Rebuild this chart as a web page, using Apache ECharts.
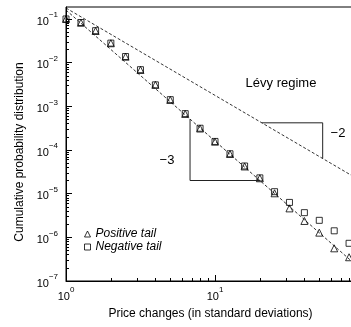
<!DOCTYPE html>
<html>
<head>
<meta charset="utf-8">
<script src="https://cdn.jsdelivr.net/npm/echarts@6/dist/echarts.min.js"></script>
<style>
html,body{margin:0;padding:0;background:#fff}
#chart{width:351px;height:327px}
</style>
</head>
<body>
<div id="chart"></div>
<script>
var FONT = "'Liberation Sans', Arial, Helvetica, sans-serif";
// 价格变动 (标准差), 对数间隔
var xValues = [1, 1.26, 1.58, 2.0, 2.51, 3.16, 3.98, 5.01, 6.31, 7.94, 10, 12.6, 15.8, 20.0, 25.1, 31.6, 39.8, 50.1, 63.1, 79.4];
var positiveTail = [0.100, 0.082, 0.053, 0.0278, 0.0137, 0.0068, 0.0031, 0.0014, 6.7e-4, 3.1e-4, 1.55e-4, 8.1e-5, 4.2e-5, 2.25e-5, 1.02e-5, 4.6e-6, 2.37e-6, 1.28e-6, 5.6e-7, 3.5e-7];
var negativeTail = [0.100, 0.083, 0.054, 0.0280, 0.0138, 0.0069, 0.0031, 0.00142, 6.8e-4, 3.15e-4, 1.57e-4, 8.2e-5, 4.3e-5, 2.3e-5, 1.11e-5, 6.3e-6, 3.67e-6, 2.45e-6, 1.41e-6, 7.3e-7];
// 拟合线 (幂律)
var cubicFit = [[1, 0.16], [100, 1.6e-7]];
var levyFit = [[1, 0.178], [100, 1.78e-5]];
// 斜率三角形
var cubicGuide = [[6.8, 5.1e-4], [6.8, 2e-5], [20, 2e-5]];
var levyGuide = [[20.6, 4.19e-4], [52.8, 4.19e-4], [52.8, 6.39e-5]];
// 坐标轴范围和刻度
var xMin = 1, xMax = 100;
var yMin = 1e-7, yMax = 0.188;
var minorMult = [2, 3, 4, 5, 6, 7, 8, 9];
var xDecades = [0, 1];
var yDecades = [-7, -6, -5, -4, -3, -2, -1];

function fMinorLogs(decades, lo, hi) {
    var c = [];
    for (var i = 0; i < decades.length; i++) {
        for (var j = 0; j < minorMult.length; j++) {
            var v = Math.log10(minorMult[j]) + decades[i];
            if (v > lo && v < hi) c.push(v);
        }
    }
    return c;
}
function fPair(xs, ys) {
    var c = [];
    for (var i = 0; i < xs.length; i++) c.push([xs[i], ys[i]]);
    return c;
}
function fPow(v) {
    var e = Math.round(Math.log10(v));
    return '{b|10}{s|' + (e < 0 ? '\u2212' + (-e) : e) + '}';
}
var rich = {
    b: {fontSize: 11, fontFamily: FONT, color: '#000', lineHeight: 16, verticalAlign: 'bottom'},
    s: {fontSize: 8, fontFamily: FONT, color: '#000', lineHeight: 9, verticalAlign: 'top'}
};

var myChart = echarts.init(document.getElementById('chart'));
var markerStyle = {color: 'rgba(0,0,0,0)', borderColor: '#000', borderWidth: 1};
var option = {
    animation: false,
    grid: {left: 66, top: 7, right: -13, bottom: 46, outerBoundsMode: 'none', containLabel: false,
        show: true, borderColor: '#000', borderWidth: 1, backgroundColor: 'transparent'},
    legend: {
        left: 79, top: 223, orient: 'vertical', itemWidth: 6, itemHeight: 6, itemGap: 1,
        selectedMode: false,
        itemStyle: {color: 'rgba(0,0,0,0)', borderColor: '#000', borderWidth: 1},
        textStyle: {fontFamily: FONT, fontSize: 12, fontStyle: 'italic', color: '#000', lineHeight: 12},
        data: [{name: 'Positive tail', icon: 'triangle'}, {name: 'Negative tail', icon: 'rect'}]
    },
    xAxis: [{
        type: 'log', logBase: 10, min: xMin, max: xMax, position: 'bottom',
        axisLine: {lineStyle: {color: '#000', width: 1}},
        axisTick: {inside: true, length: 6, lineStyle: {color: '#000'}},
        axisLabel: {formatter: fPow, rich: rich, margin: 5},
        splitLine: {show: false},
        name: 'Price changes (in standard deviations)', nameLocation: 'middle', nameGap: 27,
        nameTextStyle: {fontFamily: FONT, fontSize: 12, color: '#000', padding: [0, 9, 0, 0]}
    }, {
        type: 'value', min: Math.log10(xMin), max: Math.log10(xMax), position: 'bottom',
        axisLine: {show: false}, axisLabel: {show: false}, splitLine: {show: false},
        axisTick: {inside: true, length: 3, customValues: fMinorLogs(xDecades, 0, 2), lineStyle: {color: '#000'}}
    }],
    yAxis: [{
        type: 'log', logBase: 10, min: yMin, max: yMax, position: 'left',
        axisLine: {lineStyle: {color: '#000', width: 1}},
        axisTick: {inside: true, length: 6, lineStyle: {color: '#000'}},
        axisLabel: {formatter: fPow, rich: rich, margin: 8, showMaxLabel: false},
        splitLine: {show: false},
        name: 'Cumulative probability distribution', nameLocation: 'middle', nameGap: 36,
        nameTextStyle: {fontFamily: FONT, fontSize: 12, color: '#000', padding: [0, 16, 0, 0]}
    }, {
        type: 'value', min: Math.log10(yMin), max: Math.log10(yMax), position: 'left',
        axisLine: {show: false}, axisLabel: {show: false}, splitLine: {show: false},
        axisTick: {inside: true, length: 3, customValues: fMinorLogs(yDecades, -7, Math.log10(yMax)), lineStyle: {color: '#000'}}
    }],
    graphic: [
        {type: 'text', x: 281, y: 83, style: {text: 'L\u00e9vy regime', font: '13px ' + FONT, fill: '#000', textAlign: 'center', textVerticalAlign: 'middle'}},
        {type: 'text', x: 167, y: 160, style: {text: '\u22123', font: '13px ' + FONT, fill: '#000', textAlign: 'center', textVerticalAlign: 'middle'}},
        {type: 'text', x: 338, y: 133, style: {text: '\u22122', font: '13px ' + FONT, fill: '#000', textAlign: 'center', textVerticalAlign: 'middle'}}
    ],
    series: [
        {type: 'line', data: levyFit, showSymbol: false, silent: true, lineStyle: {color: '#000', width: 0.8, type: [3, 2]}},
        {type: 'line', data: cubicFit, showSymbol: false, silent: true, lineStyle: {color: '#000', width: 0.8, type: [3, 2]}},
        {type: 'line', data: cubicGuide, showSymbol: false, silent: true, lineStyle: {color: '#222', width: 1}},
        {type: 'line', data: levyGuide, showSymbol: false, silent: true, lineStyle: {color: '#222', width: 1}},
        {name: 'Negative tail', type: 'scatter', symbol: 'rect', symbolSize: 6, data: fPair(xValues, negativeTail), itemStyle: markerStyle},
        {name: 'Positive tail', type: 'scatter', symbol: 'triangle', symbolSize: 7, data: fPair(xValues, positiveTail), itemStyle: markerStyle}
    ]
};
myChart.setOption(option);
</script>
</body>
</html>
